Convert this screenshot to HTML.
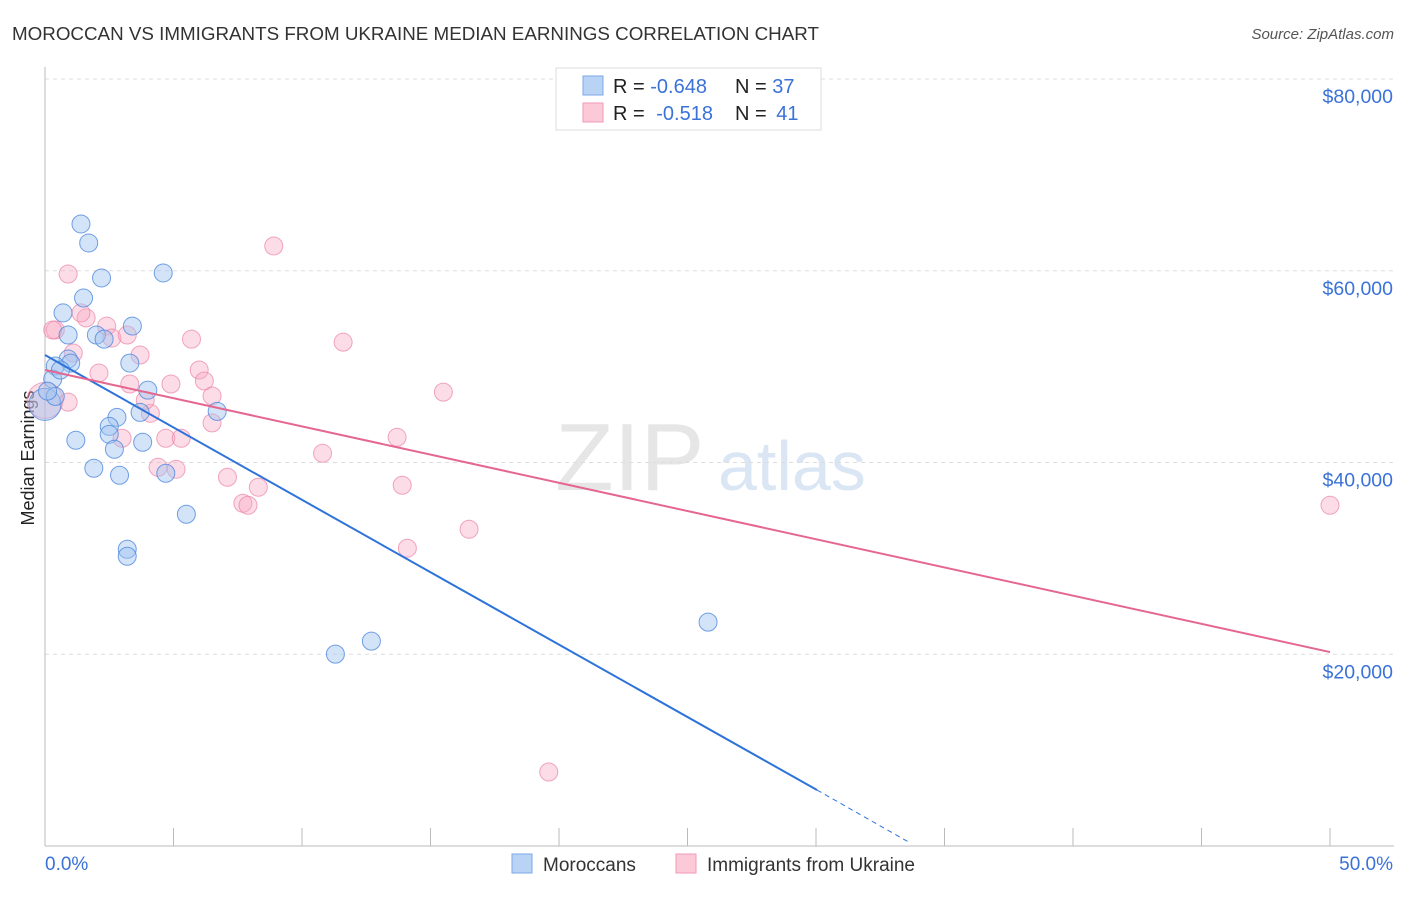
<!DOCTYPE html>
<html><head><meta charset="utf-8"><style>
body{margin:0;background:#fff;font-family:"Liberation Sans",sans-serif;}
svg text{font-family:"Liberation Sans",sans-serif;}
</style></head><body>
<svg id="c" width="1406" height="892" xmlns="http://www.w3.org/2000/svg">
<text x="12" y="40" font-size="18.8" fill="#333">MOROCCAN VS IMMIGRANTS FROM UKRAINE MEDIAN EARNINGS CORRELATION CHART</text>
<text x="1394" y="39" font-size="15" fill="#555" text-anchor="end" font-style="italic">Source: ZipAtlas.com</text>
<text x="34" y="458" font-size="18" fill="#222" text-anchor="middle" transform="rotate(-90 34 458)">Median Earnings</text>
<text x="555" y="490" font-size="96" fill="#e6e6e6" font-family="Liberation Serif">ZIP</text>
<text x="718" y="490" font-size="70" fill="#dbe6f5">atlas</text>
<g id="grid"></g><g id="axes"></g><g id="pts"></g><g id="lines"></g>
<g>
<rect x="556" y="68" width="265" height="62" fill="#fff" stroke="#ddd"/>
<rect x="583" y="76" width="20" height="19" fill="#b9d3f5" stroke="#7aa8e8"/>
<rect x="583" y="103" width="20" height="19" fill="#fbc9d8" stroke="#f09ab6"/>
<text x="613" y="93" font-size="20" fill="#222">R = <tspan fill="#3a72d8">-0.648</tspan></text>
<text x="735" y="93" font-size="20" fill="#222">N = <tspan fill="#3a72d8">37</tspan></text>
<text x="613" y="120" font-size="20" fill="#222">R = <tspan fill="#3a72d8" dx="6">-0.518</tspan></text>
<text x="735" y="120" font-size="20" fill="#222">N = <tspan fill="#3a72d8" dx="4">41</tspan></text>
</g>
<g>
<rect x="512" y="854" width="20" height="19" fill="#b9d3f5" stroke="#7aa8e8"/>
<text x="543" y="871" font-size="19" fill="#333">Moroccans</text>
<rect x="676" y="854" width="20" height="19" fill="#fbc9d8" stroke="#f09ab6"/>
<text x="707" y="871" font-size="19" fill="#333">Immigrants from Ukraine</text>
</g>
</svg>
<script>
const yTicks=[20000,40000,60000,80000];
const yTickLabels=["$20,000","$40,000","$60,000","$80,000"];
const xLabels=["0.0%","50.0%"];
const blueX=[1.4,1.7,2.2,4.6,1.5,0.7,0.9,2.0,2.3,3.4,0.9,1.0,0.4,3.3,0.3,4.0,0.0,3.7,6.7,2.8,2.5,2.5,2.7,3.8,1.2,1.9,2.9,4.7,5.5,3.2,3.2,11.3,12.7,25.8,0.4,0.1,0.6];
const blueY=[64880,62900,59250,59770,57160,55600,53300,53300,52870,54230,50790,50370,50060,50370,48700,47550,46060,45230,45330,44710,43770,42940,41380,42110,42320,39400,38670,38880,34600,30950,30220,20010,21370,23350,46900,47450,49650];
const pinkX=[0.9,8.9,0.4,1.6,1.4,2.4,2.6,3.2,3.7,5.7,11.6,1.1,2.1,3.3,4.9,6.0,6.2,6.5,4.1,0.0,6.5,3.9,15.5,4.7,5.3,3.0,13.7,10.8,4.4,5.1,7.1,8.3,7.7,7.9,13.9,16.5,14.1,19.6,50.0,0.3,0.9];
const pinkY=[59660,62580,53820,55080,55600,54230,52980,53300,51210,52870,52550,51420,49340,48190,48190,49650,48500,46940,45130,46480,44130,46480,47340,42530,42530,42530,42630,40960,39500,39290,38460,37420,35750,35540,37630,33040,31060,7720,35540,53820,46300];
const bigBlue=[16], bigPink=[19];
const L=45,R=1330,T=79,B=846;
const xs=v=>L+(v/50)*(R-L);
const ys=v=>B-(v/80000)*(B-T);
const NS="http://www.w3.org/2000/svg";
function mk(t,a,p){const e=document.createElementNS(NS,t);for(const k in a)e.setAttribute(k,a[k]);p.appendChild(e);return e;}
const grid=document.getElementById('grid'),axes=document.getElementById('axes');
yTicks.forEach((t,i)=>{
 const g=mk('line',{x1:L,x2:1394,y1:ys(t),y2:ys(t),stroke:'#ddd','stroke-dasharray':'4,4'},grid);
 
 
 const tx=mk('text',{x:1393,y:ys(t)+24,'font-size':19.5,fill:'#3a72d8','text-anchor':'end'},axes);
 tx.textContent=yTickLabels[i];
 
 
});
mk('line',{x1:L,x2:L,y1:67,y2:B,stroke:'#bbb'},axes);
mk('line',{x1:L,x2:1394,y1:B,y2:B,stroke:'#bbb'},axes);
for(let i=0;i<=10;i++){const x=xs(i*5);mk('line',{x1:x,x2:x,y1:828,y2:B,stroke:'#bbb'},axes);}
const x0=mk('text',{x:45,y:870,'font-size':19,fill:'#3a72d8'},axes);x0.textContent=xLabels[0];


const x1=mk('text',{x:1393,y:870,'font-size':19,fill:'#3a72d8','text-anchor':'end'},axes);x1.textContent=xLabels[1];


const pts=document.getElementById('pts');
pinkX.forEach((x,i)=>{const c=mk('circle',{cx:xs(x),cy:ys(pinkY[i]),r:bigPink.includes(i)?18:9,fill:'rgba(248,170,195,0.4)',stroke:'rgba(235,130,165,0.7)','stroke-width':1},pts);
 
 });
blueX.forEach((x,i)=>{const c=mk('circle',{cx:xs(x),cy:ys(blueY[i]),r:bigBlue.includes(i)?16:9,fill:'rgba(160,195,240,0.45)',stroke:'rgba(70,130,220,0.75)','stroke-width':1},pts);
 
 });
const lines=document.getElementById('lines');
const bl=mk('line',{x1:xs(0),y1:ys(51210),x2:xs(30.04),y2:ys(5840),stroke:'#2d73d9','stroke-width':2},lines);


const bd=mk('line',{x1:xs(30.04),y1:ys(5840),x2:xs(33.6),y2:ys(420),stroke:'#2d73d9','stroke-width':1,'stroke-dasharray':'5,4'},lines);


const pl=mk('line',{x1:xs(0),y1:ys(49650),x2:xs(50),y2:ys(20230),stroke:'#e5668f','stroke-width':2},lines);


</script>
</body></html>
